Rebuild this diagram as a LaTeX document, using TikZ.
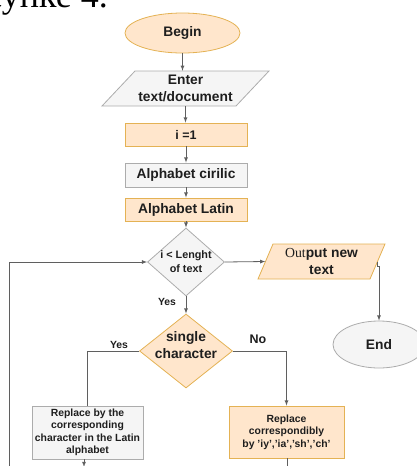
\documentclass[tikz,border=0pt]{standalone}
\usepackage{fontspec}
\setmainfont{Liberation Sans}
\newfontfamily\capfont{Liberation Serif}
\usepackage{tikz}
\usetikzlibrary{calc, arrows, shapes, shapes.geometric}
\tikzset{>=latex}
\definecolor{myorange1}{RGB}{255, 230, 204}
\definecolor{myorange2}{RGB}{228, 178, 84}
\definecolor{mygray2}{RGB}{245, 245, 245}
\definecolor{mygray3}{RGB}{172, 172, 172}
\definecolor{mygray4}{RGB}{95, 95, 95}
\definecolor{mytext}{RGB}{30, 30, 30}
\tikzset{
  orangebox/.style = {draw = myorange2, fill = myorange1, line width = 0.8pt},
  graybox/.style = {draw = mygray3, fill = mygray2, line width = 0.8pt},
  bigtext/.style = {text = mytext, font = \bfseries\fontsize{13.8}{17}\selectfont, align = center, inner sep = 0pt},
  smalltext/.style = {text = mytext, font = \bfseries\fontsize{10.4}{12.4}\selectfont, align = center, inner sep = 0pt},
  flow/.style = {draw = mygray4, line width = 0.8pt},
  arr/.style = {flow, ->, >=latex}
}

\begin{document}
\begin{tikzpicture}[x = 1pt, y = -1pt]
\useasboundingbox (0,0) rectangle (417,466);
\clip (0,0) rectangle (417,466);
% cut caption line of the page
\node[anchor = base east, inner sep = 0pt, font = \capfont\fontsize{36}{36}\selectfont] (caption) at (108,7.5) {рисунке 4.};

\node[ellipse, orangebox, bigtext, minimum width = 115, minimum height = 40] (begin) at (182.5,33) {Begin};

\filldraw[graybox] (102,106) -- (135,71) -- (269,71) -- (236,106) -- cycle;
\node[bigtext, minimum width = 134, minimum height = 35] (enter) at (185.5,88.5) {Enter\\text/document};

\node[rectangle, orangebox, bigtext, minimum width = 122, minimum height = 23] (init) at (186,134.5) {\fontsize{12.5}{15}\selectfont i =1};
\node[rectangle, graybox, bigtext, minimum width = 122, minimum height = 24] (cyr) at (186,175) {Alphabet cirilic};
\node[rectangle, orangebox, bigtext, minimum width = 122, minimum height = 23] (lat) at (186,209.5) {Alphabet Latin};

\node[diamond, graybox, inner sep = 0pt, minimum width = 77, minimum height = 68,
  label = {[smalltext, font = \bfseries\fontsize{10.8}{14}\selectfont]center:i < Lenght\\of text}] (cond) at (186,262) {};

\filldraw[orangebox] (258,279) -- (273,244) -- (385,244) -- (370,279) -- cycle;
\node[bigtext, minimum width = 112, minimum height = 35] (out) at (321.5,261.5) {{\capfont\mdseries Out}put new\\text};

\node[ellipse, graybox, bigtext, minimum width = 92, minimum height = 47] (stop) at (379,344.5) {End};

\node[diamond, orangebox, inner sep = 0pt, minimum width = 93, minimum height = 74,
  label = {[bigtext, yshift = 6]center:single\\character}] (single) at (186,351) {};

\node[rectangle, graybox, smalltext, minimum width = 111, minimum height = 53] (repl1) at (87.5,432.5) {Replace by the\\corresponding\\character in the Latin\\alphabet};
\node[rectangle, orangebox, smalltext, minimum width = 115, minimum height = 52] (repl2) at (286.5,432) {Replace\\correspondibly\\by 'iy','ia','sh','ch'};

\node[smalltext] (yes1) at (167,302) {Yes};
\node[smalltext] (yes2) at (119,345) {Yes};
\node[bigtext, font = \bfseries\fontsize{12.5}{15}\selectfont] (no) at (258,339) {No};

\coordinate (loop) at (9,470);
\coordinate (down1) at (84,467);
\coordinate (down2) at (287,470);

\draw[arr] (begin.south) -- (begin.south |- enter.north);
\draw[arr] (enter.south) -- (enter.south |- init.north);
\draw[arr] (init) -- (cyr);
\draw[arr] (cyr) -- (lat);
\draw[arr] (lat) -- (cond);
\draw[arr] (cond.east) -- (out.west);
\draw[arr] (out.east) -- ++(0,5) -| (stop.north);
\draw[arr] (cond.south) -- (single.north);
\draw[flow] (single.west) -| (repl1.north);
\draw[arr] (single.east) -| (repl2.north);
\draw[arr] (repl1.south -| down1) -- (down1);
\draw[flow] (repl2.south -| down2) -- (down2);
\draw[arr] (loop) |- (cond.west);
\end{tikzpicture}
\end{document}
